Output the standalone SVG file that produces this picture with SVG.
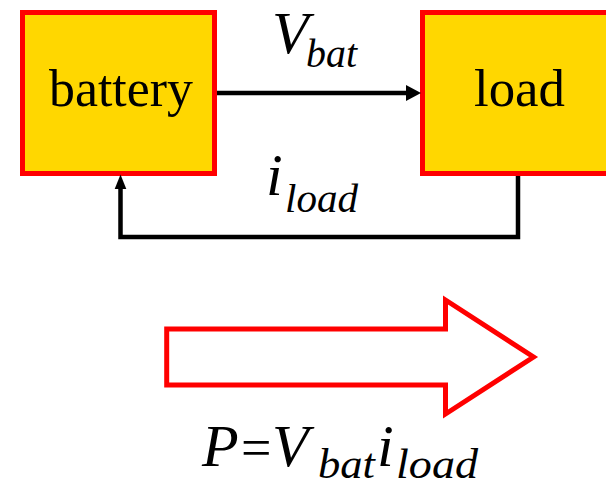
<svg xmlns="http://www.w3.org/2000/svg" width="606" height="488" viewBox="0 0 606 488">
<style>
.box{fill:#FFD700;stroke:#FF0000;stroke-width:5}
.lbl{font-family:'Liberation Serif','Tinos','Nimbus Roman','FreeSerif','Noto Serif','DejaVu Serif','Times New Roman',Times,serif;fill:#000}
.name{font-size:52px}
.it{font-style:italic}
.big{font-size:60px}
.sub{font-size:40px}
.sub2{font-size:42px}
.wire{fill:none;stroke:#000;stroke-width:4.5}
.head{fill:#000;stroke:none}
.power{fill:#FFFFFF;stroke:#FF0000;stroke-width:5}
</style>
<rect width="606" height="488" fill="#FFFFFF"/>
<g id="battery">
<rect class="box" x="22.5" y="12.5" width="192" height="161"/>
<text class="lbl name" x="49" y="106" textLength="144" lengthAdjust="spacingAndGlyphs">battery</text>
</g>
<g id="load">
<rect class="box" x="422.5" y="12.5" width="200" height="161"/>
<text class="lbl name" x="474" y="106" textLength="91" lengthAdjust="spacingAndGlyphs">load</text>
</g>
<g id="connectors">
<line class="wire" x1="217" y1="93" x2="408" y2="93"/>
<polygon class="head" points="421,93 406,85 406,101"/>
<path class="wire" d="M518,176 V237 H120.5 V188"/>
<polygon class="head" points="120.5,174.5 114.7,189 126.3,189"/>
</g>
<g id="labels">
<text class="lbl it big" x="272" y="53">V</text>
<text class="lbl it sub" x="306" y="67" textLength="51" lengthAdjust="spacingAndGlyphs">bat</text>
<text class="lbl it big" x="266" y="195">i</text>
<text class="lbl it sub" x="285" y="212" textLength="73" lengthAdjust="spacingAndGlyphs">load</text>
</g>
<g id="power-arrow">
<polygon class="power" points="166.7,329 445.5,329 445.5,300 533.5,357 445.5,414 445.5,385 166.7,385"/>
</g>
<g id="formula">
<text class="lbl it big" x="202" y="466">P</text>
<text class="lbl" font-size="54" x="241" y="466">=</text>
<text class="lbl it big" x="272" y="466">V</text>
<text class="lbl it sub2" x="318" y="478" textLength="57" lengthAdjust="spacingAndGlyphs">bat</text>
<text class="lbl it big" x="377" y="466">i</text>
<text class="lbl it sub2" x="396" y="478" textLength="82" lengthAdjust="spacingAndGlyphs">load</text>
</g>
</svg>
